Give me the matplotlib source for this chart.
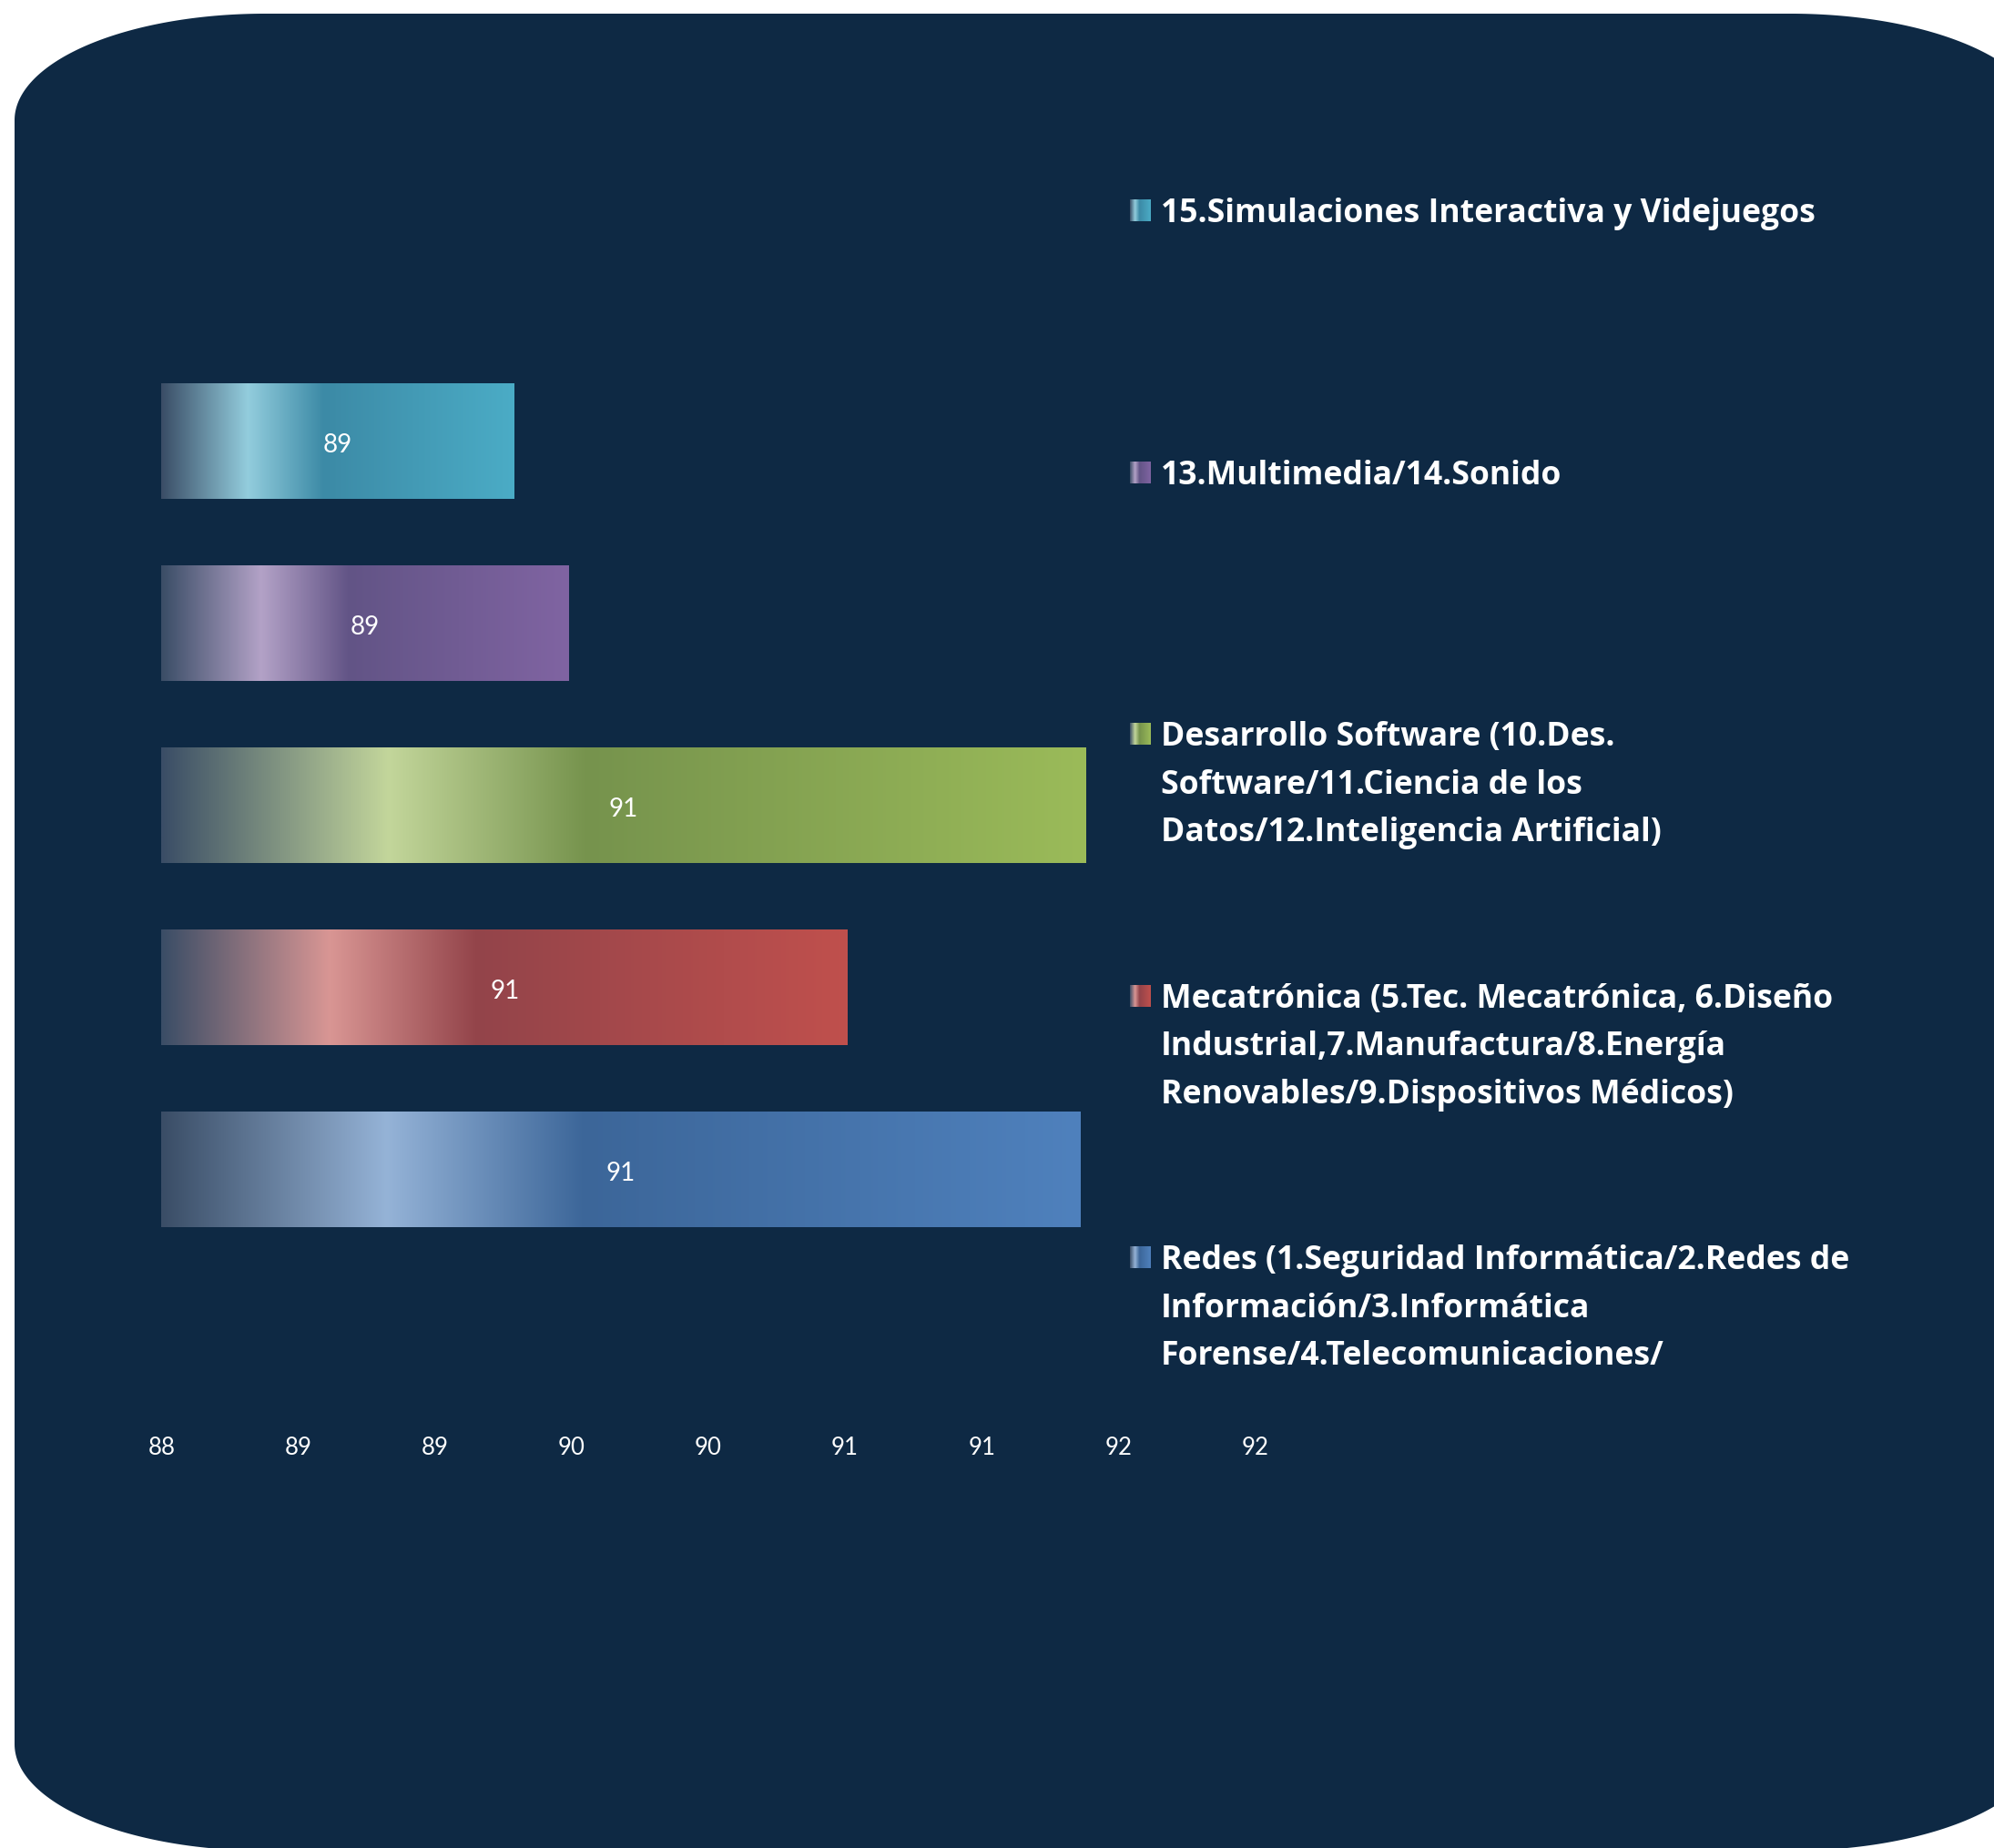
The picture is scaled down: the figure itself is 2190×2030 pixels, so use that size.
import textwrap
import numpy as np
import matplotlib
matplotlib.use("Agg")
import matplotlib.pyplot as plt
from matplotlib.path import Path
from matplotlib.patches import PathPatch
from matplotlib.colors import to_rgb

# ---------------- data ----------------
categories = [
    "Redes (1.Seguridad Informática/2.Redes de Información/3.Informática Forense/4.Telecomunicaciones/",
    "Mecatrónica (5.Tec. Mecatrónica, 6.Diseño Industrial,7.Manufactura/8.Energía Renovables/9.Dispositivos Médicos)",
    "Desarrollo Software (10.Des. Software/11.Ciencia de los Datos/12.Inteligencia Artificial)",
    "13.Multimedia/14.Sonido",
    "15.Simulaciones Interactiva y Videjuegos",
]
values = [91.36, 90.51, 91.38, 89.49, 89.29]
x_ticks = [88.0, 88.5, 89.0, 89.5, 90.0, 90.5, 91.0, 91.5, 92.0]
x_tick_labels = ["88", "89", "89", "90", "90", "91", "91", "92", "92"]
x_min, x_max = 88, 92

# ---------------- style ----------------
base_colors = ["#4f81bd", "#c0504d", "#9bbb59", "#8064a2", "#4bacc6"]
light_colors = ["#95b3d7", "#d99694", "#c3d69b", "#b3a2c7", "#93cddd"]
dark_colors = ["#3c6699", "#93444a", "#76934d", "#625486", "#3c8aa6"]
start_color = "#3a4d66"
stops = [0.0, 0.245, 0.46, 1.0]
bg_color = "#0e2944"
plt.rcParams["font.family"] = ["Lato", "DejaVu Sans"]
LEGEND_FONT = ["Open Sans", "DejaVu Sans"]

W, H, DPI = 2190, 2031, 100


def gradient(i, n=600):
    cols = np.array([to_rgb(start_color), to_rgb(light_colors[i]),
                     to_rgb(dark_colors[i]), to_rgb(base_colors[i])])
    t = np.linspace(0, 1, n)
    rgb = np.stack([np.interp(t, stops, cols[:, c]) for c in range(3)], axis=-1)
    return rgb[None, :, :]


def half_up(v):
    return str(int(np.floor(v + 0.5)))


fig = plt.figure(figsize=(W / DPI, H / DPI), dpi=DPI, facecolor="white")

# background rounded panel
bg = fig.add_axes([0, 0, 1, 1], zorder=0)
bg.set_xlim(0, W)
bg.set_ylim(H, 0)
bg.axis("off")


def rounded_poly(x0, y0, x1, y1, rx, ry, n=80):
    pts = []
    corners = [((x0 + rx, y0 + ry), np.pi, 1.5 * np.pi),
               ((x1 - rx, y0 + ry), 1.5 * np.pi, 2 * np.pi),
               ((x1 - rx, y1 - ry), 0.0, 0.5 * np.pi),
               ((x0 + rx, y1 - ry), 0.5 * np.pi, np.pi)]
    for (cx, cy), a0, a1 in corners:
        th = np.linspace(a0, a1, n)
        pts += list(zip(cx + rx * np.cos(th), cy + ry * np.sin(th)))
    pts.append(pts[0])
    codes = [Path.MOVETO] + [Path.LINETO] * (len(pts) - 2) + [Path.CLOSEPOLY]
    return Path(pts, codes)


bg.add_patch(PathPatch(rounded_poly(16, 16, 2242, 2034, 275, 117),
                       facecolor=bg_color, edgecolor="none"))

# main bar axes
ax = fig.add_axes([177.3 / W, 1 - 1385.3 / H, 1201.2 / W, 1000 / H], zorder=1)
ax.set_facecolor("none")
ax.set_xlim(x_min, x_max)
ax.set_ylim(-0.5, len(values) - 0.5)
ypos = np.arange(len(values))
bars = ax.barh(ypos, values, height=0.635, color="none", edgecolor="none")
for i, b in enumerate(bars):
    y0, h, v = b.get_y(), b.get_height(), b.get_width()
    im = ax.imshow(gradient(i), extent=[x_min, v, y0, y0 + h], aspect="auto",
                   interpolation="bilinear", zorder=2)
    im.set_clip_path(b)
    ax.annotate(half_up(values[i]), xy=((x_min + v) / 2, y0 + h / 2),
                xytext=(0, -3), textcoords="offset points", ha="center",
                va="center", color="white", fontsize=20, zorder=3)
ax.set_xlim(x_min, x_max)
ax.set_ylim(-0.5, len(values) - 0.5)
ax.set_xticks(x_ticks)
ax.set_xticklabels(x_tick_labels)
ax.set_yticks([])
ax.tick_params(axis="x", length=0, pad=139, labelsize=18.5, labelcolor="white")
for s in ax.spines.values():
    s.set_visible(False)

# legend overlay
ov = fig.add_axes([0, 0, 1, 1], zorder=2)
ov.set_facecolor("none")
ov.axis("off")
first_base = 244.0
entry_step = 287.5
line_h = 52.6
for k, i in enumerate(range(len(categories) - 1, -1, -1)):
    base = first_base + k * entry_step
    for j, line in enumerate(textwrap.wrap(categories[i], 41)):
        ov.text(1275, base + j * line_h, line, ha="left", va="baseline",
                color="white", fontsize=25.6, fontweight="bold",
                family=LEGEND_FONT)
    ov.imshow(gradient(i), extent=[1241, 1264, base, base - 24], aspect="auto",
              interpolation="bilinear")
ov.set_xlim(0, W)
ov.set_ylim(H, 0)

fig.savefig("out.png", dpi=DPI, facecolor="white")
